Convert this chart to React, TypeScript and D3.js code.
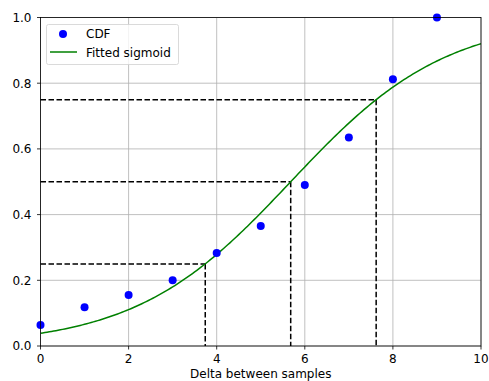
import React from "react";
import * as d3 from "d3";

const xs = [0, 1, 2, 3, 4, 5, 6, 7, 8, 9];
const cdf = [0.064, 0.118, 0.155, 0.2, 0.283, 0.365, 0.49, 0.635, 0.812, 1.0];
const sigK = 0.566;
const sigX0 = 5.68;
const quantLevels = [0.25, 0.5, 0.75];
const quantX = [3.74, 5.68, 7.62];
const xTicks = [0, 2, 4, 6, 8, 10];
const yTicks = [0, 0.2, 0.4, 0.6, 0.8, 1.0];

const W = 489, H = 381;
const L = 40.5, R = 481, T = 17.5, B = 346;

export default function App() {
  const x = d3.scaleLinear().domain([0, 10]).range([L, R]);
  const y = d3.scaleLinear().domain([0, 1]).range([B, T]);
  const curveX = d3.range(0, 10.0001, 0.05);
  const line = d3.line<number>().x(d => x(d)).y(d => y(1 / (1 + Math.exp(-sigK * (d - sigX0)))));
  const font = "DejaVu Sans, sans-serif";
  const fs = 12;
  return (
    <svg width={W} height={H} style={{ position: "absolute", left: 0, top: 0 }} fontFamily={font}>
      <rect width={W} height={H} fill="#fff" />
      <defs>
        <clipPath id="clip"><rect x={L} y={T} width={R - L} height={B - T} /></clipPath>
      </defs>
      {xTicks.map(t => (
        <line key={"gx" + t} x1={x(t)} x2={x(t)} y1={T} y2={B} stroke="#b0b0b0" strokeWidth={0.8} />
      ))}
      {yTicks.map(t => (
        <line key={"gy" + t} x1={L} x2={R} y1={y(t)} y2={y(t)} stroke="#b0b0b0" strokeWidth={0.8} />
      ))}
      {quantLevels.map((q, i) => (
        <g key={"q" + i}>
          <line x1={x(0)} x2={x(quantX[i])} y1={y(q)} y2={y(q)} stroke="#000" strokeWidth={1.5} strokeDasharray="5.5,2.5" />
          <line x1={x(quantX[i])} x2={x(quantX[i])} y1={y(q)} y2={y(0)} stroke="#000" strokeWidth={1.5} strokeDasharray="5.5,2.5" />
        </g>
      ))}
      <g clipPath="url(#clip)">
        <path d={line(curveX) || ""} fill="none" stroke="#008000" strokeWidth={1.5} />
      </g>
      {xs.map((v, i) => (
        <circle key={"p" + i} cx={x(v)} cy={y(cdf[i])} r={4} fill="#0000ff" />
      ))}
      <rect x={L} y={T} width={R - L} height={B - T} fill="none" stroke="#000" strokeWidth={0.8} />
      {xTicks.map(t => (
        <g key={"tx" + t}>
          <line x1={x(t)} x2={x(t)} y1={B} y2={B + 3.5} stroke="#000" strokeWidth={0.8} />
          <text x={x(t)} y={363} fontSize={fs} textAnchor="middle" fill="#000">{t}</text>
        </g>
      ))}
      {yTicks.map(t => (
        <g key={"ty" + t}>
          <line x1={L - 3.5} x2={L} y1={y(t)} y2={y(t)} stroke="#000" strokeWidth={0.8} />
          <text x={L - 9} y={y(t) + 4.4} fontSize={fs} textAnchor="end" fill="#000">{t.toFixed(1)}</text>
        </g>
      ))}
      <text x={(L + R) / 2} y={377.5} fontSize={fs} textAnchor="middle" fill="#000">Delta between samples</text>
      <g>
        <rect x={46.5} y={24.5} width={132} height={40} rx={2} fill="#fff" fillOpacity={0.8} stroke="#d0d0d0" strokeWidth={0.8} />
        <circle cx={63} cy={34} r={4} fill="#0000ff" />
        <text x={86} y={38} fontSize={fs} fill="#000">CDF</text>
        <line x1={50} x2={77} y1={52} y2={52} stroke="#008000" strokeWidth={1.5} />
        <text x={86} y={56.5} fontSize={fs} fill="#000">Fitted sigmoid</text>
      </g>
    </svg>
  );
}
